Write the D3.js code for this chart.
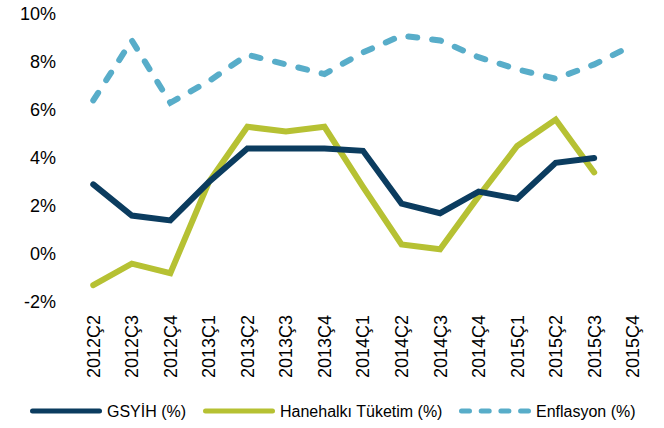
<!DOCTYPE html>
<html>
<head>
<meta charset="utf-8">
<script src="https://cdnjs.cloudflare.com/ajax/libs/d3/7.8.5/d3.min.js"></script>
<style>
  body { margin: 0; background: #fff; }
  text { font-family: "Liberation Sans", Arial, sans-serif; fill: #000; }
</style>
</head>
<body>
<div id="chart"></div>
<script>
var quarters = ["2012Ç2", "2012Ç3", "2012Ç4", "2013Ç1", "2013Ç2", "2013Ç3", "2013Ç4",
                "2014Ç1", "2014Ç2", "2014Ç3", "2014Ç4", "2015Ç1", "2015Ç2", "2015Ç3", "2015Ç4"]
var gsyih = [2.9, 1.6, 1.4, 3.0, 4.4, 4.4, 4.4, 4.3, 2.1, 1.7, 2.6, 2.3, 3.8, 4.0, null]
var tuketim = [-1.3, -0.4, -0.8, 3.0, 5.3, 5.1, 5.3, 2.8, 0.4, 0.2, 2.4, 4.5, 5.6, 3.4, null]
var enflasyon = [6.4, 8.9, 6.3, 7.2, 8.3, 7.9, 7.5, 8.4, 9.1, 8.9, 8.2, 7.7, 7.3, 7.9, 8.7]
var yTicks = [-2, 0, 2, 4, 6, 8, 10]

var width = 664,
    height = 428

var svg = d3.select("#chart").append("svg")
    .attr("width", width)
    .attr("height", height)

var x = d3.scaleBand()
    .domain(quarters)
    .range([74, 652])

var y = d3.scaleLinear()
    .domain([-2, 10])
    .range([302, 14])

var xc = function(d) { return x(d) + x.bandwidth() / 2 }

// y axis labels only, no line
var yAxis = svg.append("g")
    .attr("transform", "translate(56,0)")
    .call(d3.axisLeft(y).tickValues(yTicks).tickSize(0).tickPadding(0)
      .tickFormat(function(d) { return d + "%" }))
yAxis.select(".domain").remove()
yAxis.selectAll("text")
    .style("font-size", "18px")
    .style("font-family", "'Liberation Sans', Arial, sans-serif")
    .attr("fill", "#000")

// x axis labels, rotated
var xAxis = svg.append("g")
    .attr("transform", "translate(0,315)")
    .call(d3.axisBottom(x).tickSize(0).tickPadding(0))
xAxis.select(".domain").remove()
xAxis.selectAll("text")
    .style("font-size", "18px")
    .style("font-family", "'Liberation Sans', Arial, sans-serif")
    .attr("fill", "#000")
    .attr("text-anchor", "end")
    .attr("transform", "rotate(-90)")
    .attr("x", 0)
    .attr("y", 0)
    .attr("dy", "0.36em")

var series = [
  { name: "GSYİH (%)", values: gsyih, color: "#0b3c5f", dash: null, legendDash: null },
  { name: "Hanehalkı Tüketim (%)", values: tuketim, color: "#b6c133", dash: null, legendDash: null },
  { name: "Enflasyon (%)", values: enflasyon, color: "#58adc9", dash: "9,15", legendDash: "8,11.7" }
]

var line = d3.line()
    .defined(function(d) { return d.v != null })
    .x(function(d) { return xc(d.q) })
    .y(function(d) { return y(d.v) })

// inflation first, then consumption, GDP on top
var order = [2, 1, 0]
order.forEach(function(i) {
  var s = series[i]
  var pts = quarters.map(function(q, j) { return { q: q, v: s.values[j] } })
  svg.append("path")
      .datum(pts)
      .attr("d", line)
      .attr("fill", "none")
      .attr("stroke", s.color)
      .attr("stroke-width", 6)
      .attr("stroke-linecap", "round")
      .attr("stroke-linejoin", "miter")
      .attr("stroke-dasharray", s.dash)
})

// legend
var legendX = [30, 203, 459]
var legend = svg.append("g")
series.forEach(function(s, i) {
  var g = legend.append("g").attr("transform", "translate(" + legendX[i] + ",411)")
  g.append("line")
      .attr("x1", 2.5).attr("x2", 69.5)
      .attr("y1", 0).attr("y2", 0)
      .attr("stroke", s.color)
      .attr("stroke-width", 5)
      .attr("stroke-linecap", "round")
      .attr("stroke-dasharray", s.legendDash)
  g.append("text")
      .attr("x", 77)
      .attr("y", 0)
      .attr("dy", "0.35em")
      .style("font-size", "16px")
      .text(s.name)
})
</script>
</body>
</html>
